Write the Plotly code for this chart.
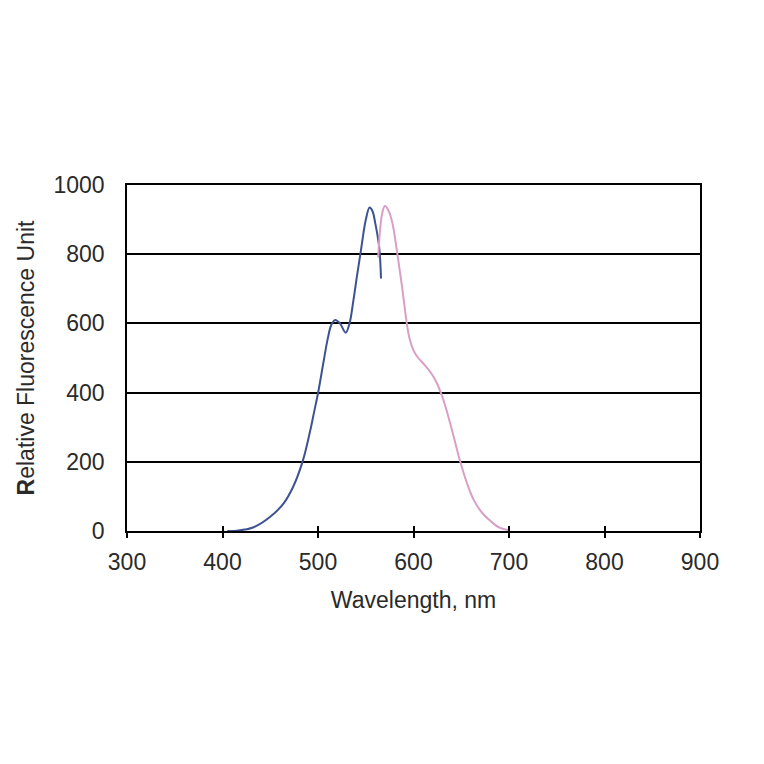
# excitation / emission spectra
import plotly.graph_objects as go

# excitation (blue)
ex_wl = [405, 415, 432, 450, 464, 474, 484, 492, 496, 500, 506, 510, 514, 518, 523, 529,
         533, 537, 541, 545, 550, 554, 557, 560, 564, 566]
ex_val = [0, 1, 10, 41, 80, 128, 202, 292, 345, 398, 492, 553, 596, 610, 600, 573,
          600, 665, 740, 812, 899, 935, 925, 889, 822, 730]

# emission (pink)
em_wl = [563, 565, 567, 570, 574, 578, 583, 588, 593, 596, 600, 605, 611, 618, 624, 629,
         634, 639, 644, 649, 656, 663, 672, 681, 690, 700]
em_val = [790, 870, 915, 939, 925, 889, 803, 706, 600, 555, 522, 500, 482, 458, 430, 397,
          355, 305, 252, 200, 138, 90, 52, 28, 10, 2]

x_ticks = [300, 400, 500, 600, 700, 800, 900]
y_ticks = [0, 200, 400, 600, 800, 1000]

font = dict(family="Liberation Sans, Arial, sans-serif", size=23, color="#2a2a2a")

fig = go.Figure()
fig.add_trace(go.Scatter(x=ex_wl, y=ex_val, mode="lines",
                         line=dict(color="#3d5291", width=2, shape="spline", smoothing=1),
                         name="Excitation"))
fig.add_trace(go.Scatter(x=em_wl, y=em_val, mode="lines",
                         line=dict(color="#d8a0c6", width=2, shape="spline", smoothing=1),
                         name="Emission"))
# invisible trace on the overlay axis so its inside ticks get drawn
fig.add_trace(go.Scatter(x=[300, 900], y=[0, 0], mode="lines", line=dict(width=0),
                         xaxis="x2", showlegend=False, hoverinfo="skip"))

fig.update_layout(
    width=764, height=764,
    margin=dict(l=119, r=72, t=177, b=241),
    paper_bgcolor="white", plot_bgcolor="white",
    showlegend=False,
    font=font,
    xaxis=dict(
        range=[300, 900], tickvals=x_ticks, ticks="outside", ticklen=5, tickwidth=1.5,
        tickcolor="black", showline=True, linecolor="black", linewidth=1.5, mirror=True,
        showgrid=False, zeroline=False, ticklabelstandoff=5,
        title=dict(text="Wavelength, nm", standoff=18, font=font),
    ),
    xaxis2=dict(
        range=[300, 900], tickvals=x_ticks, ticks="inside", ticklen=5, tickwidth=1.5,
        tickcolor="black", overlaying="x", side="bottom", showticklabels=False,
        showline=False, showgrid=False, zeroline=False,
    ),
    yaxis=dict(
        range=[0, 1000], tickvals=y_ticks, ticks="", showline=True, linecolor="black",
        linewidth=1.5, mirror=True, showgrid=True, gridcolor="black", gridwidth=1.5,
        zeroline=False, ticklabelstandoff=16,
        title=dict(text="<b>R</b>elative Fluorescence Unit", standoff=12, font=font),
    ),
)

fig.write_html("out.html")
